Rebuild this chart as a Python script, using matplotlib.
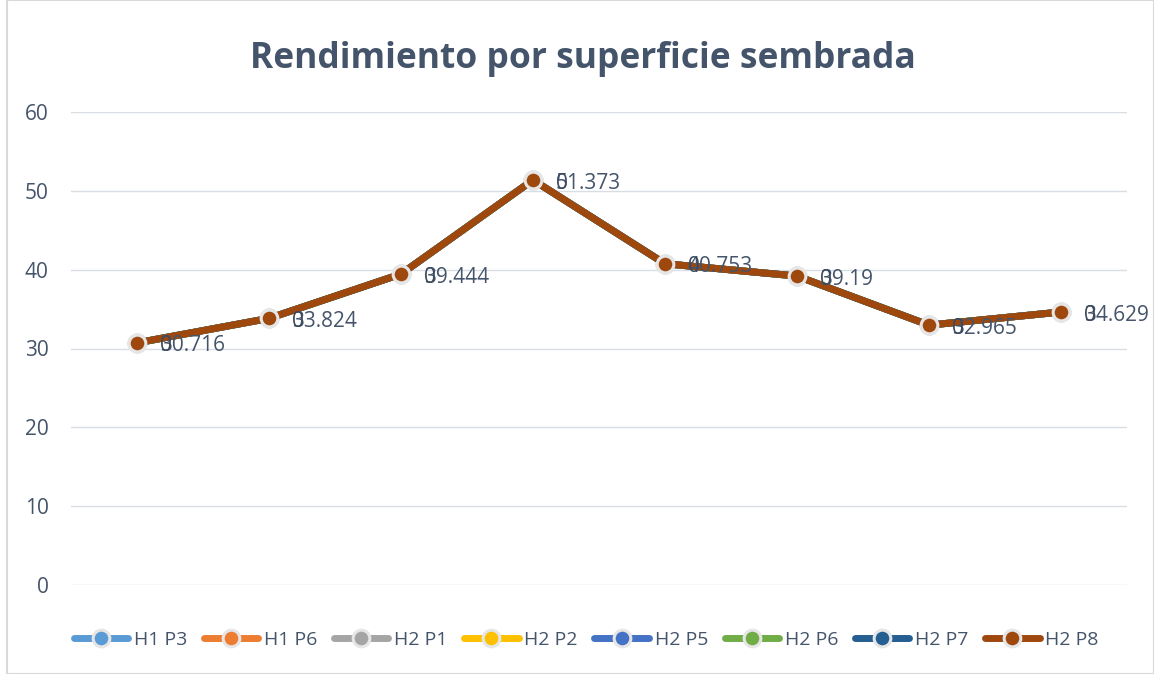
import matplotlib.pyplot as plt
from matplotlib.patches import Rectangle
import numpy as np

plt.rcParams['font.family'] = ['Open Sans', 'DejaVu Sans']

series = ["H1 P3", "H1 P6", "H2 P1", "H2 P2", "H2 P5", "H2 P6", "H2 P7", "H2 P8"]
colors = ["#5B9BD5", "#ED7D31", "#A5A5A5", "#FFC000", "#4472C4", "#70AD47", "#255E91", "#9E480E"]
values = [30.716, 33.824, 39.444, 51.373, 40.753, 39.19, 32.965, 34.629]
other_labels = ["0"] * len(values)

txt = "#44546A"
fig = plt.figure(figsize=(11.54, 6.74), dpi=100)
ax = fig.add_axes([71/1154, 1 - 585/674, 1056/1154, 473/674])
x = np.arange(len(values))

for name, c in zip(series, colors):
    ax.plot(x, values, color=c, lw=5, marker='o', ms=12, mfc=c,
            mec="#E6E6E6", mew=2.2, label=name, solid_capstyle='round')

for xi, v, o in zip(x, values, other_labels):
    ax.annotate(f"{v:g}", (xi, v), xytext=(23, -3), textcoords='offset pixels',
                ha='left', va='center', fontsize=15, color=txt)
    ax.annotate(o, (xi, v), xytext=(23, -3), textcoords='offset pixels',
                ha='left', va='center', fontsize=15, color="#3B4A5E")

ax.set_xlim(-0.5, len(values) - 0.5)
ax.set_ylim(0, 60)
ax.set_yticks(range(0, 61, 10))
ax.set_xticks([])
ax.grid(axis='y', color="#D9DEE5", lw=1)
ax.set_axisbelow(True)
for s in ax.spines.values():
    s.set_visible(False)
ax.tick_params(axis='y', length=0, pad=16, labelsize=15, labelcolor=txt)

fig.text(0.505, 0.912, "Rendimiento por superficie sembrada", ha='center', va='center',
         fontsize=25.5, fontweight='bold', color=txt)

leg = fig.legend(loc='center', bbox_to_anchor=(0.508, 1 - 640/674), ncol=8, frameon=False,
                 fontsize=14, handlelength=2.8, columnspacing=0.85, handletextpad=0.3,
                 labelcolor=txt)

fig.patches.append(Rectangle((7/1154, 0), 1 - 7/1154, 1, transform=fig.transFigure,
                             fill=False, ec="#D9D9D9", lw=1.5))

fig.savefig("out.png", dpi=100)
